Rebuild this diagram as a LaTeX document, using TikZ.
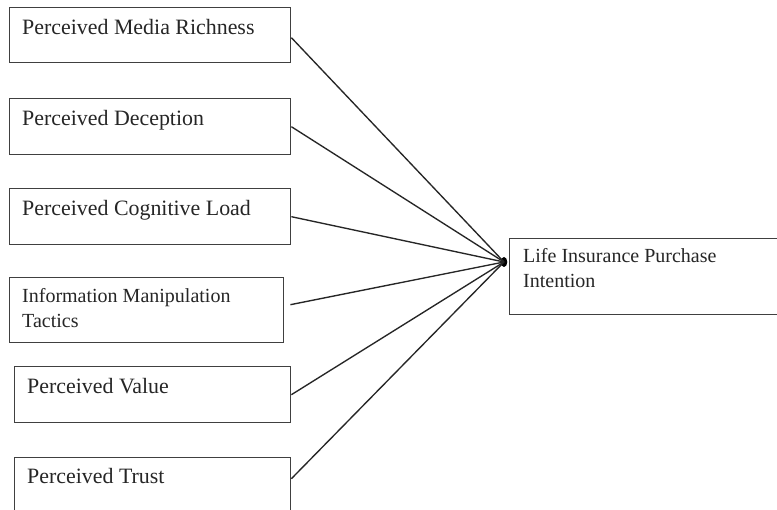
\documentclass[tikz,border=0pt]{standalone}
\usepackage{fontspec}
\setmainfont{Liberation Serif}
\usetikzlibrary{shapes.geometric}
\begin{document}
\begin{tikzpicture}[x=1pt,y=-1pt,
  box/.style={draw=black!75, line width=1.4pt, inner sep=0pt, anchor=north west},
  lbl/.style={anchor=base west, inner sep=0pt, text=black!85, font=\fontsize{21.9}{26}\selectfont},
  lblsm/.style={anchor=base west, inner sep=0pt, text=black!85, font=\fontsize{20}{25}\selectfont},
  conn/.style={draw=black!85, line width=1.35pt}]
\useasboundingbox (0,0) rectangle (777,510);
\fill[white] (0,0) rectangle (777,510);
% boxes
\node[box, minimum width=281pt, minimum height=55pt] (b1) at (9,7) {};
\node[box, minimum width=281pt, minimum height=56pt] (b2) at (9,98) {};
\node[box, minimum width=281pt, minimum height=56pt] (b3) at (9,188) {};
\node[box, minimum width=274pt, minimum height=65pt] (b4) at (9,277) {};
\node[box, minimum width=276pt, minimum height=56pt] (b5) at (14,366) {};
\node[box, minimum width=276pt, minimum height=58pt] (b6) at (14,457) {};
\node[box, minimum width=272pt, minimum height=76pt] (t) at (509,238) {};
% labels
\node[lbl] (l1) at (22,35) {Perceived Media Richness};
\node[lbl] (l2) at (22,126) {Perceived Deception};
\node[lbl] (l3) at (22,216) {Perceived Cognitive Load};
\node[lblsm] (l4a) at (22,303) {Information Manipulation};
\node[lblsm] (l4b) at (22,328) {Tactics};
\node[lbl] (l5) at (27,394) {Perceived Value};
\node[lbl] (l6) at (27,484) {Perceived Trust};
\node[lblsm] (lta) at (523,263) {Life Insurance Purchase};
\node[lblsm] (ltb) at (523,288) {Intention};
% hub
\node[ellipse, fill=black, minimum width=6.5pt, minimum height=10pt, inner sep=0pt] (hub) at (504,262) {};
% connectors
\draw[conn] ([yshift=-2.5pt]b1.east) -- (hub.center);
\draw[conn] (b2.east) -- (hub.center);
\draw[conn] (b3.east) -- (hub.center);
\draw[conn] ([xshift=6pt,yshift=5.5pt]b4.east) -- (hub.center);
\draw[conn] (b5.east) -- (hub.center);
\draw[conn] ([yshift=8pt]b6.east) -- (hub.center);
\end{tikzpicture}
\end{document}
